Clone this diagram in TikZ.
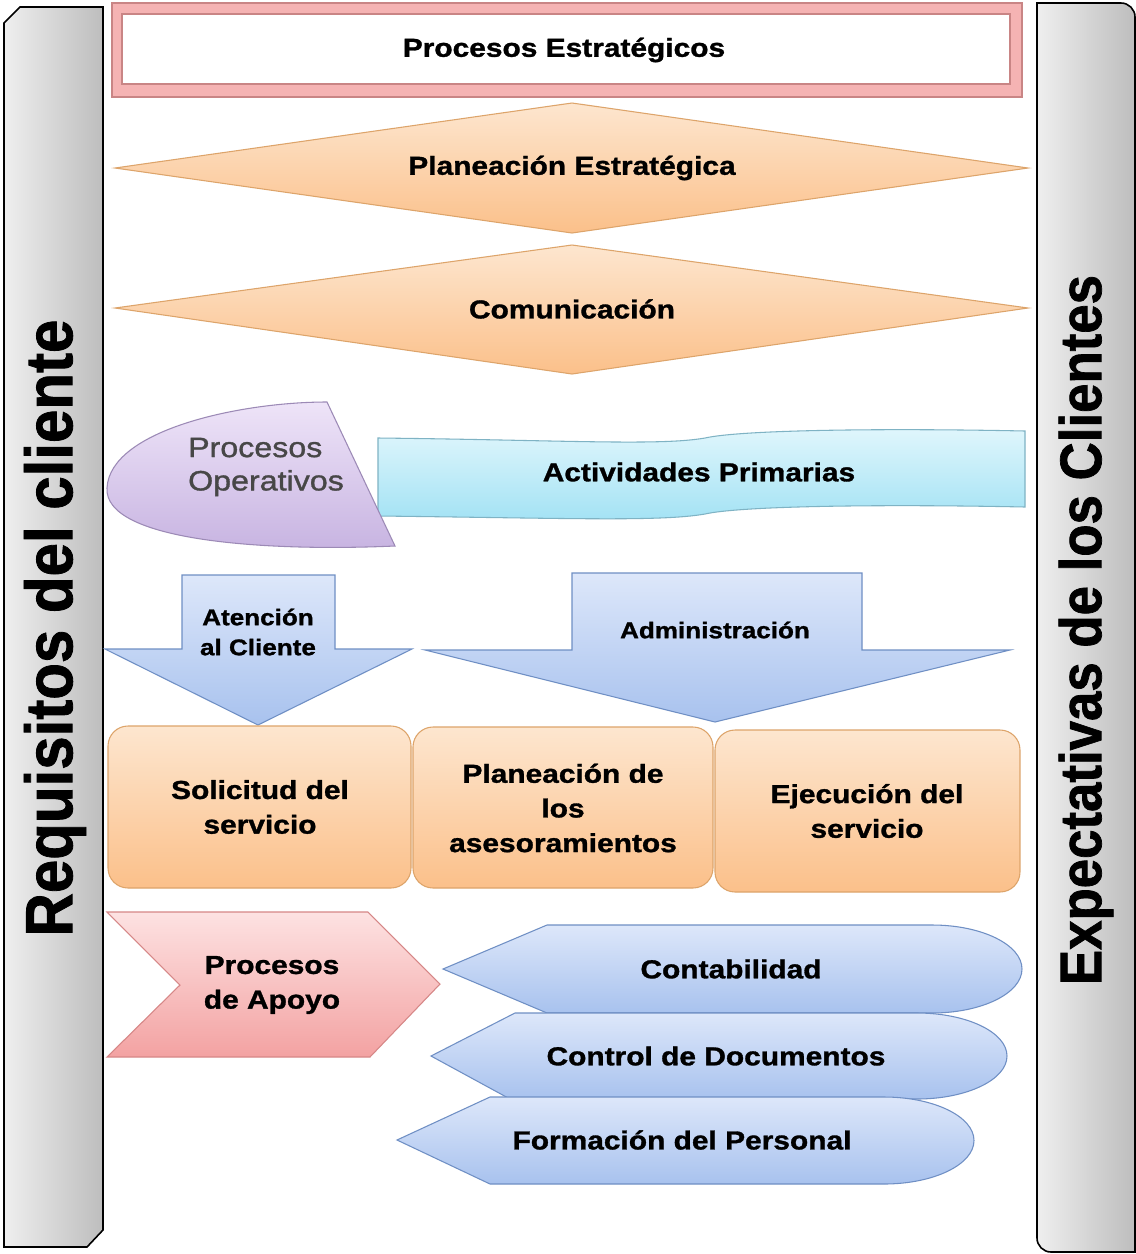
\documentclass[tikz,border=0pt]{standalone}
\usepackage{fontspec}
\setmainfont{Liberation Sans}
\newfontfamily\widefont[FakeStretch=1.15,FakeBold=1.2]{Liberation Sans}
\newfontfamily\narrowfont[FakeStretch=0.9,FakeBold=1.2]{Liberation Sans}
\definecolor{barL}{HTML}{EFEFEF}
\definecolor{barR}{HTML}{BDBDBD}
\definecolor{frameP}{HTML}{F5B3B3}
\definecolor{frameE}{HTML}{C98585}
\definecolor{peachT}{HTML}{FDE6CF}
\definecolor{peachB}{HTML}{FBC08A}
\definecolor{peachE}{HTML}{DDA46A}
\definecolor{blueT}{HTML}{DDE7FA}
\definecolor{blueB}{HTML}{A8C2EE}
\definecolor{blueE}{HTML}{6F8FC4}
\definecolor{cyanT}{HTML}{E0F6FC}
\definecolor{cyanB}{HTML}{A2E2F4}
\definecolor{cyanE}{HTML}{7FB3C4}
\definecolor{lavT}{HTML}{EEE4F8}
\definecolor{lavB}{HTML}{C7B3E1}
\definecolor{lavE}{HTML}{9C8AB6}
\definecolor{pinkT}{HTML}{FDE2E2}
\definecolor{pinkB}{HTML}{F3A2A2}
\definecolor{pinkE}{HTML}{D68787}
\tikzset{
	every node/.style={align=center},
	bigtxt/.style={font=\widefont\bfseries\fontsize{19.5}{26}\selectfont},
	smalltxt/.style={font=\widefont\bfseries\fontsize{17}{22.5}\selectfont},
	sidetxt/.style={font=\narrowfont\bfseries\fontsize{#1}{#1}\selectfont, rotate=90},
	sidebar/.style={draw=black, line width=1.2pt, left color=barL, right color=barR},
	peachbox/.style={draw=peachE, line width=0.8pt, top color=peachT, bottom color=peachB},
	bluebox/.style={draw=blueE, line width=0.8pt, top color=blueT, bottom color=blueB},
	cyanbox/.style={draw=cyanE, line width=0.8pt, top color=cyanT, bottom color=cyanB},
	lavbox/.style={draw=lavE, line width=0.8pt, top color=lavT, bottom color=lavB},
	pinkbox/.style={draw=pinkE, line width=0.8pt, top color=pinkT, bottom color=pinkB}
}
\begin{document}
\begin{tikzpicture}[x=0.75pt, y=-0.75pt]
	\useasboundingbox[fill=white] (0,0) rectangle (1136,1254);

	\draw[sidebar] (4,23) -- (20,7) -- (103,7) -- (103,1230) -- (87,1247) -- (4,1247) -- cycle;
	\draw[sidebar] (1037,3) -- (1121,3) arc[start angle=-90, end angle=0, radius=14]
		-- (1135,1252) -- (1051,1252) arc[start angle=90, end angle=180, radius=14] -- cycle;
	\node[sidetxt=50] (requisitos) at (55,628) {Requisitos del cliente};
	\node[sidetxt=44] (expectativas) at (1086,630) {Expectativas de los Clientes};

	\draw[draw=frameE, fill=frameP, line width=0.8pt] (112,3) rectangle (1022,97);
	\draw[draw=frameE, fill=white, line width=0.8pt] (122,14) rectangle (1010,84);
	\node[bigtxt] (estrategicos) at (564,50) {Procesos Estratégicos};

	\draw[peachbox] (115,168) -- (572,103) -- (1028,168) -- (572,233) -- cycle;
	\node[bigtxt] (planeacion) at (572,168) {Planeación Estratégica};
	\draw[peachbox] (115,308) -- (572,245) -- (1028,308) -- (572,374) -- cycle;
	\node[bigtxt] (comunicacion) at (572,309) {Comunicación};

	\draw[cyanbox] (378,438) .. controls (560,440) and (660,446) .. (705,438)
		.. controls (740,430) and (880,428) .. (1025,431) -- (1025,507)
		.. controls (880,504) and (740,506) .. (705,514)
		.. controls (660,522) and (560,518) .. (378,516) -- cycle;
	\node[bigtxt] (primarias) at (699,472) {Actividades Primarias};
	\draw[lavbox] (327,402) -- (395,546) .. controls (260,552) and (104,540) .. (107,488)
		.. controls (110,430) and (240,402) .. (327,402) -- cycle;
	\node[font=\widefont\fontsize{21}{25}\selectfont, text=black!72, align=left] (operativos) at (266,467) {Procesos\\Operativos};

	\draw[bluebox] (182,575) -- (335,575) -- (335,649) -- (412,649) -- (258,725) -- (105,649) -- (182,649) -- cycle;
	\node[smalltxt] (atencion) at (258,632) {Atención\\al Cliente};
	\draw[bluebox] (572,573) -- (862,573) -- (862,650) -- (1010,650) -- (715,722) -- (425,650) -- (572,650) -- cycle;
	\node[smalltxt] (administracion) at (715,630) {Administración};

	\draw[peachbox, rounded corners=15pt] (108,726) rectangle (411,888);
	\node[bigtxt] (solicitud) at (260,807) {Solicitud del\\servicio};
	\draw[peachbox, rounded corners=15pt] (413,727) rectangle (713,888);
	\node[bigtxt] (asesoramientos) at (563,808) {Planeación de\\los\\asesoramientos};
	\draw[peachbox, rounded corners=15pt] (715,730) rectangle (1020,892);
	\node[bigtxt] (ejecucion) at (867,811) {Ejecución del\\servicio};

	\draw[pinkbox] (107,912) -- (368,912) -- (440,984) -- (370,1057) -- (107,1057) -- (180,985) -- cycle;
	\node[bigtxt] (apoyo) at (272,985) {Procesos\\de Apoyo};

	\draw[bluebox] (443,969) -- (547,925) -- (932,925) arc[start angle=-90, end angle=90, x radius=90, y radius=44] -- (547,1013) -- cycle;
	\node[bigtxt] (contabilidad) at (731,969) {Contabilidad};
	\draw[bluebox] (431,1056) -- (515,1013) -- (917,1013) arc[start angle=-90, end angle=90, x radius=90, y radius=43] -- (510,1099) -- cycle;
	\node[bigtxt] (documentos) at (716,1056) {Control de Documentos};
	\draw[bluebox] (397,1140) -- (490,1097) -- (884,1097) arc[start angle=-90, end angle=90, x radius=90, y radius=43.5] -- (490,1184) -- cycle;
	\node[bigtxt] (formacion) at (682,1140) {Formación del Personal};
\end{tikzpicture}
\end{document}
